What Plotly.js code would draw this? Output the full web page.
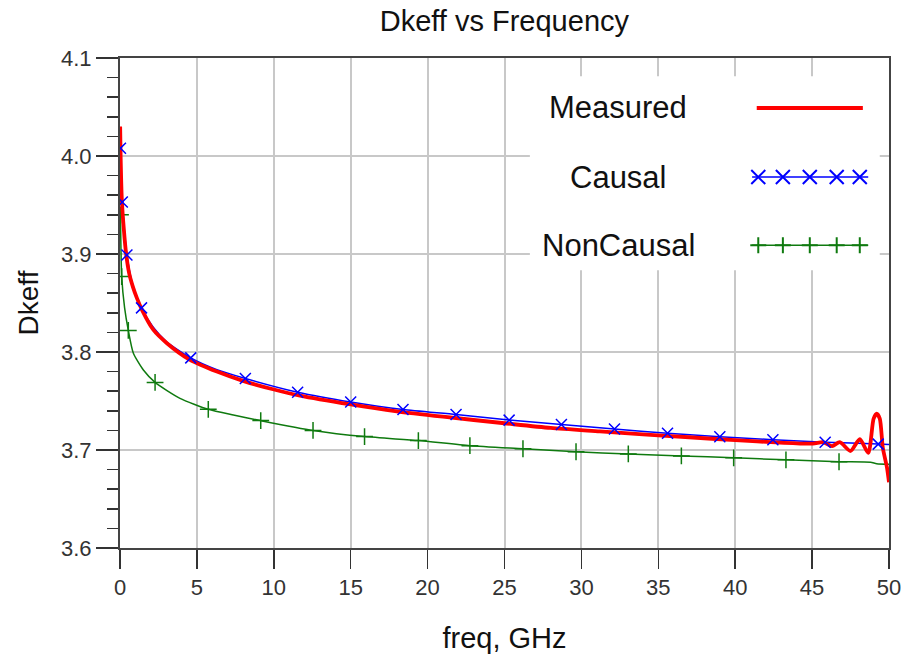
<!DOCTYPE html>
<html>
<head>
<meta charset="utf-8">
<script src="https://cdn.plot.ly/plotly-3.0.1.min.js"></script>
<style>
  html, body { margin: 0; padding: 0; background: #fff; }
  #chart { width: 906px; height: 655px; }
</style>
</head>
<body>
<div id="chart"></div>
<script>
// ---------------- data ----------------
const seriesNames = ["Measured", "Causal", "NonCausal"];

const measuredFreq = [0.01, 0.04, 0.12, 0.25, 0.4, 0.6, 0.85, 1.1, 1.43, 2.15, 3.05, 4.55, 6.3, 8.0, 9.95, 11.7,
  15, 18, 21, 25, 28, 31.2, 34, 37, 40, 42.9, 45.05, 45.7, 46.3, 46.8, 47.5, 48.1, 48.65, 49.0, 49.2, 49.4, 49.6, 49.87, 50.0];
const measuredVal = [4.03, 4.0, 3.955, 3.925, 3.9, 3.88, 3.866, 3.855, 3.843, 3.823, 3.809, 3.792, 3.78, 3.7705, 3.762, 3.7555,
  3.7465, 3.7395, 3.734, 3.7273, 3.7225, 3.719, 3.716, 3.713, 3.71, 3.7075, 3.7065, 3.708, 3.704, 3.708, 3.699, 3.711, 3.697, 3.732, 3.737, 3.732, 3.702, 3.682, 3.667];

const causalFreq = [0.03, 0.08, 0.15, 0.28, 0.45, 0.8, 1.4, 2.15, 3.03, 4.6, 6.3, 8.15, 11.55, 15.0, 18.4, 21.85, 25.3, 28.7, 32.15, 35.6, 39.0, 42.45, 45.85, 49.3, 50];
const causalVal  = [4.008, 3.975, 3.953, 3.925, 3.899, 3.87, 3.845, 3.8255, 3.8105, 3.794, 3.782, 3.773, 3.759, 3.749, 3.7414, 3.7363, 3.7305, 3.726, 3.7215, 3.717, 3.7135, 3.7105, 3.708, 3.706, 3.7055];
const causalMarkFreq = [0.03, 0.15, 0.45, 1.4, 4.6, 8.15, 11.55, 15.0, 18.4, 21.85, 25.3, 28.7, 32.15, 35.6, 39.0, 42.45, 45.85, 49.3];
const causalMarkVal  = [4.008, 3.953, 3.899, 3.845, 3.794, 3.773, 3.759, 3.749, 3.7414, 3.7363, 3.7305, 3.726, 3.7215, 3.717, 3.7135, 3.7105, 3.708, 3.706];

const nonCausalFreq = [0.03, 0.11, 0.3, 0.54, 0.87, 1.52, 2.28, 3.9, 5.74, 7.37, 9.15, 12.55, 15.9, 19.4, 22.75, 26.2, 29.65, 33.05, 36.5, 39.9, 43.3, 46.75, 48.8, 49.2, 50];
const nonCausalVal  = [3.94, 3.877, 3.845, 3.822, 3.7987, 3.7816, 3.769, 3.7527, 3.7415, 3.7357, 3.73, 3.72, 3.7137, 3.7096, 3.7044, 3.7013, 3.6982, 3.696, 3.694, 3.692, 3.69, 3.688, 3.6875, 3.686, 3.6855];
const nonCausalMarkFreq = [0.03, 0.11, 0.54, 2.28, 5.74, 9.15, 12.55, 15.9, 19.4, 22.75, 26.2, 29.65, 33.05, 36.5, 39.9, 43.3, 46.75];
const nonCausalMarkVal  = [3.94, 3.877, 3.822, 3.769, 3.7415, 3.73, 3.72, 3.7137, 3.7096, 3.7044, 3.7013, 3.6982, 3.696, 3.694, 3.692, 3.69, 3.688];

const xTickVals = [0, 5, 10, 15, 20, 25, 30, 35, 40, 45, 50];
const yTickVals = [3.6, 3.7, 3.8, 3.9, 4.0, 4.1];

// ---------------- styling ----------------
const RED = "#ff0000", BLUE = "#0000ff", GREEN = "#0f7a0f";
const TEXT_FONT = "Liberation Sans, Arial, sans-serif";
const TICK_FONT = "Liberation Sans Narrow, Arial Narrow, Liberation Sans, Arial, sans-serif";

// legend key layout (in plot-domain fractions) – not data
const legendKey = {
  textX: 0.648,
  rows: [0.898, 0.757, 0.618],
  lineX: [0.822, 0.973],
  redLineX: [0.828, 0.966],
  markX: [0.830, 0.862, 0.897, 0.932, 0.962]
};

const traces = [
  { x: nonCausalFreq, y: nonCausalVal, type: "scatter", mode: "lines", name: seriesNames[2],
    line: { color: GREEN, width: 1.5, shape: "spline", smoothing: 0.6 }, hoverinfo: "skip" },
  { x: nonCausalMarkFreq, y: nonCausalMarkVal, type: "scatter", mode: "markers", name: seriesNames[2],
    marker: { symbol: "cross-thin-open", size: 12, color: GREEN, line: { color: GREEN, width: 1.5 } } },
  { x: causalFreq, y: causalVal, type: "scatter", mode: "lines", name: seriesNames[1],
    line: { color: BLUE, width: 1.5, shape: "spline", smoothing: 0.6 }, hoverinfo: "skip" },
  { x: measuredFreq, y: measuredVal, type: "scatter", mode: "lines", name: seriesNames[0],
    line: { color: RED, width: 3.8, shape: "spline", smoothing: 0.7 } },
  { x: causalMarkFreq, y: causalMarkVal, type: "scatter", mode: "markers", name: seriesNames[1],
    marker: { symbol: "x-thin-open", size: 11, color: BLUE, line: { color: BLUE, width: 1.5 } } }
];

// legend box and key glyphs drawn as layout shapes (above the plot, in array order)
const XPATH = "M-7,-7L7,7M-7,7L7,-7";
const PLUSPATH = "M-8,0L8,0M0,-8L0,8";
const legendShapes = [
  { type: "rect", xref: "x domain", yref: "y domain", x0: 0.533, x1: 0.988, y0: 0.567, y1: 0.963,
    fillcolor: "#ffffff", line: { width: 0 }, layer: "above" },
  { type: "line", xref: "x domain", yref: "y domain", x0: legendKey.redLineX[0], x1: legendKey.redLineX[1],
    y0: legendKey.rows[0], y1: legendKey.rows[0], line: { color: RED, width: 4 }, layer: "above" },
  { type: "line", xref: "x domain", yref: "y domain", x0: legendKey.lineX[0], x1: legendKey.lineX[1],
    y0: legendKey.rows[1], y1: legendKey.rows[1], line: { color: BLUE, width: 1.5 }, layer: "above" },
  { type: "line", xref: "x domain", yref: "y domain", x0: legendKey.lineX[0], x1: legendKey.lineX[1],
    y0: legendKey.rows[2], y1: legendKey.rows[2], line: { color: GREEN, width: 1.5 }, layer: "above" }
];
legendKey.markX.forEach(mx => {
  legendShapes.push({ type: "path", xref: "x domain", yref: "y domain", xsizemode: "pixel", ysizemode: "pixel",
    xanchor: mx, yanchor: legendKey.rows[1], path: XPATH, line: { color: BLUE, width: 2 }, layer: "above" });
  legendShapes.push({ type: "path", xref: "x domain", yref: "y domain", xsizemode: "pixel", ysizemode: "pixel",
    xanchor: mx, yanchor: legendKey.rows[2], path: PLUSPATH, line: { color: GREEN, width: 2 }, layer: "above" });
});

const layout = {
  width: 906, height: 655,
  margin: { l: 120, r: 17, t: 58, b: 107 },
  paper_bgcolor: "#ffffff", plot_bgcolor: "#ffffff",
  showlegend: false,
  font: { family: TEXT_FONT, color: "#111" },
  title: { text: "Dkeff vs Frequency", font: { family: TEXT_FONT, size: 29, color: "#111" },
           x: 0.5567, xanchor: "center", y: 0.968, yanchor: "middle" },
  xaxis: {
    range: [0, 50], tickvals: xTickVals, ticktext: xTickVals.map(String),
    ticks: "outside", ticklen: 19, tickwidth: 1.5, tickcolor: "#333",
    showline: true, linecolor: "#444", linewidth: 2, mirror: true,
    showgrid: true, gridcolor: "#c8c8c8", gridwidth: 2, zeroline: false,
    tickfont: { family: TICK_FONT, size: 22, color: "#333" },
    title: { text: "freq, GHz", font: { family: TEXT_FONT, size: 29, color: "#111" }, standoff: 28 },
    fixedrange: true
  },
  yaxis: {
    range: [3.6, 4.1], tickvals: yTickVals, ticktext: yTickVals.map(v => v.toFixed(1)),
    ticks: "outside", ticklen: 22, tickwidth: 1.5, tickcolor: "#333",
    minor: { dtick: 0.02, tick0: 3.6, ticks: "outside", ticklen: 11, tickwidth: 1.5, tickcolor: "#333", showgrid: false },
    showline: true, linecolor: "#444", linewidth: 2, mirror: true,
    showgrid: true, gridcolor: "#c8c8c8", gridwidth: 2, zeroline: false,
    tickfont: { family: TICK_FONT, size: 22, color: "#333" },
    title: { text: "Dkeff", font: { family: TEXT_FONT, size: 28, color: "#111" }, standoff: 14 },
    fixedrange: true
  },
  shapes: legendShapes,
  annotations: seriesNames.map((n, i) => ({
    text: n, xref: "paper", yref: "paper", x: legendKey.textX, y: legendKey.rows[i],
    xanchor: "center", yanchor: "middle", showarrow: false,
    font: { family: TEXT_FONT, size: 31, color: "#111" }
  }))
};

Plotly.newPlot("chart", traces, layout, { staticPlot: true, displayModeBar: false });
</script>
</body>
</html>
